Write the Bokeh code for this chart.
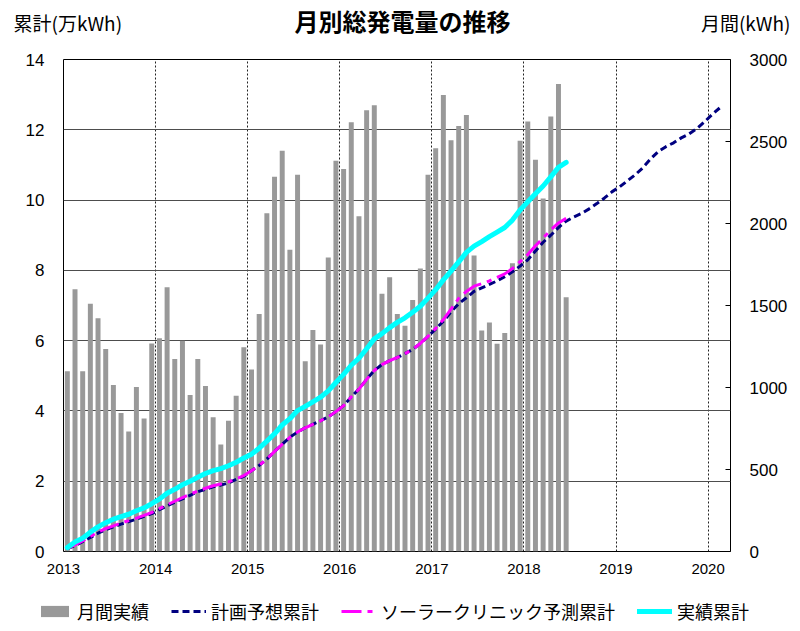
from bokeh.plotting import figure
from bokeh.models import Range1d, LinearAxis, FixedTicker, Legend, LegendItem
from bokeh.layouts import column
from bokeh.core.properties import value
from bokeh.embed import file_html
from bokeh.resources import INLINE

# ---------------- data ----------------
title_text = "月別総発電量の推移"
left_title = "累計(万kWh)"
right_title = "月間(kWh)"
year_ticks = [2013, 2014, 2015, 2016, 2017, 2018, 2019, 2020]
left_ticks = [0, 2, 4, 6, 8, 10, 12, 14]
right_ticks = [0, 500, 1000, 1500, 2000, 2500, 3000]
start_year = 2013

# monthly generation (kWh), Jan 2013 .. Jun 2018
monthly_kwh = [
    1099, 1599, 1099, 1510, 1423, 1234, 1015, 844, 732, 1003, 811, 1269,
    1300, 1611, 1174, 1285, 955, 1174, 1009, 819, 652, 798, 949, 1246,
    1110, 1448, 2062, 2285, 2444, 1840, 2298, 1160, 1351, 1262, 1793, 2382,
    2333, 2618, 2044, 2690, 2721, 1572, 1673, 1448, 1376, 1533, 1725, 2298,
    2459, 2784, 2508, 2595, 2661, 1805, 1347, 1396, 1267, 1333, 1758, 2504,
    2622, 2389, 2152, 2653, 2851, 1551,
]

# plan cumulative (万kWh), Jan 2013 .. Feb 2020
plan_cum = [
    0.08, 0.17, 0.28, 0.40, 0.52, 0.62, 0.70, 0.78, 0.85, 0.92, 1.00, 1.08,
    1.19, 1.30, 1.40, 1.50, 1.60, 1.70, 1.77, 1.84, 1.89, 1.95, 2.05, 2.14,
    2.30, 2.45, 2.63, 2.85, 3.05, 3.25, 3.40, 3.52, 3.62, 3.72, 3.83, 3.98,
    4.15, 4.40, 4.62, 4.90, 5.15, 5.32, 5.43, 5.52, 5.63, 5.75, 5.92, 6.12,
    6.33, 6.55, 6.82, 7.05, 7.22, 7.40, 7.50, 7.60, 7.70, 7.82, 7.96, 8.12,
    8.30, 8.55, 8.80, 9.00, 9.22, 9.40, 9.52, 9.62, 9.75, 9.90, 10.06, 10.24,
    10.38, 10.55, 10.72, 10.92, 11.17, 11.38, 11.52, 11.63, 11.77, 11.88, 12.03, 12.22,
    12.43, 12.62,
]

# solar clinic forecast cumulative (万kWh), Jan 2013 .. Jun 2018
clinic_cum = [
    0.09, 0.19, 0.30, 0.43, 0.55, 0.65, 0.73, 0.81, 0.88, 0.95, 1.03, 1.11,
    1.22, 1.33, 1.43, 1.53, 1.63, 1.72, 1.80, 1.87, 1.92, 1.98, 2.07, 2.16,
    2.30, 2.45, 2.63, 2.85, 3.05, 3.25, 3.40, 3.52, 3.62, 3.72, 3.83, 3.98,
    4.15, 4.40, 4.62, 4.90, 5.15, 5.32, 5.43, 5.52, 5.63, 5.75, 5.92, 6.12,
    6.35, 6.60, 6.90, 7.20, 7.40, 7.55, 7.62, 7.70, 7.80, 7.90, 8.05, 8.25,
    8.45, 8.70, 8.92, 9.15, 9.35, 9.48,
]

# actual cumulative (万kWh), Jan 2013 .. Jun 2018
actual_cum = [
    0.11, 0.27, 0.38, 0.55, 0.70, 0.82, 0.92, 0.99, 1.06, 1.16, 1.24, 1.36,
    1.49, 1.66, 1.77, 1.90, 2.00, 2.11, 2.22, 2.30, 2.36, 2.44, 2.54, 2.66,
    2.77, 2.94, 3.14, 3.35, 3.60, 3.78, 4.01, 4.13, 4.26, 4.39, 4.57, 4.81,
    5.04, 5.30, 5.50, 5.77, 6.05, 6.20, 6.37, 6.52, 6.65, 6.81, 6.98, 7.21,
    7.45, 7.73, 7.98, 8.24, 8.51, 8.69, 8.82, 8.96, 9.09, 9.22, 9.43, 9.72,
    9.95, 10.18, 10.40, 10.66, 10.93, 11.07,
]

legend_labels = ["月間実績", "計画予想累計", "ソーラークリニック予測累計", "実績累計"]


def month_x(n):
    return [start_year + (i + 0.5) / 12 for i in range(n)]


JP = "Noto Sans CJK JP"
NUM = "Liberation Sans"
W = 800
HEAD_H = 50
FOOT_H = 40
MAIN_H = 631 - HEAD_H - FOOT_H
NAN = float("nan")

BAR_STYLE = dict(fill_color="#999999", line_color=None)
PLAN_STYLE = dict(line_color="#000080", line_width=3, line_dash="7 4")
CLINIC_STYLE = dict(line_color="#FF00FF", line_width=3, line_dash="20 6 5 6")
ACTUAL_STYLE = dict(line_color="#00FFFF", line_width=5, line_join="round", line_cap="round")

# ---------------- header with the titles ----------------
head = figure(width=W, height=HEAD_H, x_range=Range1d(0, W), y_range=Range1d(0, HEAD_H),
              x_axis_type=None, y_axis_type=None, output_backend="svg",
              toolbar_location=None, min_border=0, outline_line_color=None)
head.frame_align = False
head.grid.visible = False
head.text(x=[402], y=[HEAD_H - 20], text=[title_text], text_align="center",
          text_baseline="middle", text_font=value(JP), text_font_size="24px",
          text_font_style="bold", text_color="black")
head.text(x=[13, 790], y=[HEAD_H - 22, HEAD_H - 22], text=[left_title, right_title],
          text_align=["left", "right"], text_baseline="middle", text_font=value(JP),
          text_font_size="19px", text_color="black")

# ---------------- main chart ----------------
p = figure(width=W, height=MAIN_H,
           x_range=Range1d(2013, 2020.243), y_range=Range1d(0, 14),
           output_backend="svg", toolbar_location=None,
           min_border_left=63, min_border_right=70,
           min_border_top=9, min_border_bottom=MAIN_H - 9 - 492)
p.frame_align = False
p.extra_y_ranges = {"month": Range1d(0, 3000)}
p.background_fill_color = "white"
p.border_fill_color = "white"
p.outline_line_color = "black"
p.outline_line_width = 1

p.xgrid.ticker = FixedTicker(ticks=year_ticks)
p.xgrid.grid_line_color = "#222222"
p.xgrid.grid_line_dash = "2 2"
p.xgrid.grid_line_width = 1
p.ygrid.ticker = FixedTicker(ticks=left_ticks)
p.ygrid.grid_line_color = "#4d4d4d"
p.ygrid.grid_line_width = 1

xa = p.xaxis[0]
xa.ticker = FixedTicker(ticks=year_ticks)
xa.major_label_overrides = {y: str(y) for y in year_ticks}
xa.major_tick_in = 0
xa.major_tick_out = 0
xa.minor_tick_in = 0
xa.minor_tick_out = 0
xa.axis_line_color = None
xa.major_label_standoff = 12
xa.major_label_text_font = NUM
xa.major_label_text_font_size = "15px"
xa.major_label_text_color = "black"

ya = p.yaxis[0]
ya.ticker = FixedTicker(ticks=left_ticks)
ya.major_tick_in = 0
ya.major_tick_out = 0
ya.minor_tick_in = 0
ya.minor_tick_out = 0
ya.axis_line_color = None
ya.major_label_standoff = 19
ya.major_label_text_font = NUM
ya.major_label_text_font_size = "17px"
ya.major_label_text_color = "black"

ra = LinearAxis(y_range_name="month", ticker=FixedTicker(ticks=right_ticks))
ra.major_tick_in = 5
ra.major_tick_out = 0
ra.minor_tick_in = 0
ra.minor_tick_out = 0
ra.major_tick_line_color = "black"
ra.axis_line_color = None
ra.major_label_standoff = 19
ra.major_label_text_font = NUM
ra.major_label_text_font_size = "17px"
ra.major_label_text_color = "black"
p.add_layout(ra, "right")

bars = p.vbar(x=month_x(len(monthly_kwh)), top=monthly_kwh, width=0.054,
              y_range_name="month", **BAR_STYLE)
plan = p.line(month_x(len(plan_cum)), plan_cum, **PLAN_STYLE)
clinic = p.line(month_x(len(clinic_cum)), clinic_cum, **CLINIC_STYLE)
actual = p.line(month_x(len(actual_cum)), actual_cum, **ACTUAL_STYLE)

# ---------------- footer with the legend ----------------
foot = figure(width=W, height=FOOT_H, x_range=Range1d(0, 1), y_range=Range1d(0, 1),
              x_axis_type=None, y_axis_type=None, output_backend="svg",
              toolbar_location=None, min_border=0, outline_line_color=None)
foot.frame_align = False
foot.grid.visible = False
# legend keys only (NaN data: nothing is drawn in the footer itself)
k_bar = foot.vbar(x=[NAN], top=[NAN], width=0.1, **BAR_STYLE)
k_plan = foot.line(x=[NAN], y=[NAN], **PLAN_STYLE)
k_clinic = foot.line(x=[NAN], y=[NAN], **CLINIC_STYLE)
k_actual = foot.line(x=[NAN], y=[NAN], **ACTUAL_STYLE)

legend = Legend(items=[
    LegendItem(label=legend_labels[0], renderers=[k_bar]),
    LegendItem(label=legend_labels[1], renderers=[k_plan]),
    LegendItem(label=legend_labels[2], renderers=[k_clinic]),
    LegendItem(label=legend_labels[3], renderers=[k_actual]),
], orientation="horizontal", location=(37, 7),
    glyph_width=35, glyph_height=14, label_height=20, label_standoff=5,
    spacing=22, padding=3, margin=0,
    border_line_color=None, background_fill_alpha=0,
    label_text_font=JP, label_text_font_size="18px", label_text_color="black")
foot.add_layout(legend, "center")

layout = column(head, p, foot, spacing=0)
open("out.html", "w").write(file_html(layout, INLINE))
